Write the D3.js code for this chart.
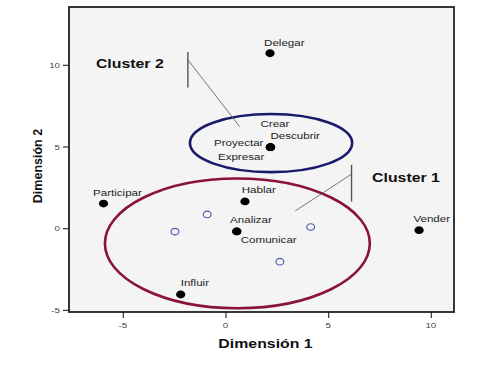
<!DOCTYPE html>
<html><head><meta charset="utf-8">
<script src="https://cdn.jsdelivr.net/npm/d3@7"></script>
<style>
html,body{margin:0;padding:0;background:#fff;}
svg{display:block;font-family:"Liberation Sans",Arial,sans-serif;}
</style></head>
<body>
<svg id="chart" width="479" height="370"></svg>
<script>
// ---- data ----
const pointNames = ["Delegar","Crear","Descubrir","Proyectar","Expresar","Participar","Hablar","Analizar","Comunicar","Influir","Vender"];
const pointX = [2.17, 2.19, 2.19, 2.19, 2.19, -5.94, 0.95, 0.55, 0.55, -2.18, 9.43];
const pointY = [10.71, 4.96, 4.96, 4.96, 4.96, 1.51, 1.64, -0.20, -0.20, -4.06, -0.12];
const openX = [-0.89, -2.46, 4.15, 2.65];
const openY = [0.84, -0.21, 0.07, -2.05];
const xTicks = [-5, 0, 5, 10];
const yTicks = [-5, 0, 5, 10];
const clusterNames = ["Cluster 1", "Cluster 2"];
const clusterCX = [0.58, 2.22];
const clusterCY = [-0.93, 5.21];
const clusterRX = [6.45, 3.95];
const clusterRY = [3.97, 1.78];
const xTitle = "Dimensión 1";
const yTitle = "Dimensión 2";

// ---- layout / style ----
const plot = {left: 69, right: 454, top: 7, bottom: 312};
const SX = 1.22; // horizontal glyph stretch seen in the reference
const labelOffsets = {
  "Delegar": [-6, -7], "Crear": [-10, -20], "Descubrir": [0, -8.5], "Proyectar": [-56.5, -1],
  "Expresar": [-52.5, 12.5], "Participar": [-10.5, -7.3], "Hablar": [-3.3, -8],
  "Analizar": [-6.7, -8], "Comunicar": [4, 12], "Influir": [0, -8.6], "Vender": [-5.7, -7.7]
};
const clusterStroke = ["#8a1438", "#1a1a6a"];
// annotation anchors in data units: text start, bracket, leader line end
const clusterAnno = [
  {tx: 7.14, ty: 2.80, bx: 6.14, by0: 3.88, by1: 1.63, ly: 3.31, ex: 3.40, ey: 1.06},
  {tx: -6.31, ty: 9.82, bx: -1.83, by0: 10.78, by1: 8.61, ly: 10.31, ex: 0.69, ey: 6.22}
];

const svg = d3.select("#chart");
const x = d3.scaleLinear().domain([-7.62, 11.13]).range([plot.left, plot.right]);
const y = d3.scaleLinear().domain([-5.13, 13.54]).range([plot.bottom, plot.top]);

// plot background
svg.append("rect").attr("x", plot.left).attr("y", plot.top)
  .attr("width", plot.right - plot.left).attr("height", plot.bottom - plot.top)
  .attr("fill", "#f4f4f4");

const clip = svg.append("defs").append("clipPath").attr("id", "clip")
  .append("rect").attr("x", plot.left).attr("y", plot.top)
  .attr("width", plot.right - plot.left).attr("height", plot.bottom - plot.top);

function stretchedText(g, px, py, txt) {
  return g.append("text").attr("transform", `translate(${px},${py}) scale(${SX},1)`).text(txt);
}

// axes
const xAxis = d3.axisBottom(x).tickValues(xTicks).tickSize(6).tickFormat(d3.format("d"));
const yAxis = d3.axisLeft(y).tickValues(yTicks).tickSize(6).tickFormat(d3.format("d"));
const gx = svg.append("g").attr("transform", `translate(0,${plot.bottom})`).call(xAxis);
const gy = svg.append("g").attr("transform", `translate(${plot.left},0)`).call(yAxis);
[gx, gy].forEach(g => {
  g.select(".domain").remove();
  g.selectAll(".tick line").attr("stroke", "#333").attr("stroke-width", 1.2);
  g.selectAll(".tick text").remove();
});
xTicks.forEach(v => {
  stretchedText(svg, x(v), 328, v).attr("text-anchor", "middle").attr("font-size", 8).attr("fill", "#444");
});
yTicks.forEach(v => {
  stretchedText(svg, plot.left - 9, y(v) + 3, v).attr("text-anchor", "end").attr("font-size", 8).attr("fill", "#444");
});

// frame
svg.append("rect").attr("x", plot.left).attr("y", plot.top)
  .attr("width", plot.right - plot.left).attr("height", plot.bottom - plot.top)
  .attr("fill", "none").attr("stroke", "#222").attr("stroke-width", 1.8);

const g = svg.append("g").attr("clip-path", "url(#clip)");

// cluster ellipses
clusterNames.forEach((n, i) => {
  g.append("ellipse")
    .attr("cx", x(clusterCX[i])).attr("cy", y(clusterCY[i]))
    .attr("rx", x(clusterCX[i] + clusterRX[i]) - x(clusterCX[i]))
    .attr("ry", y(clusterCY[i]) - y(clusterCY[i] + clusterRY[i]))
    .attr("fill", "none").attr("stroke", clusterStroke[i]).attr("stroke-width", 2.6);
});

// annotations
clusterNames.forEach((n, i) => {
  const a = clusterAnno[i];
  g.append("line").attr("x1", x(a.bx)).attr("x2", x(a.bx)).attr("y1", y(a.by0)).attr("y2", y(a.by1))
    .attr("stroke", "#555").attr("stroke-width", 1.4);
  g.append("line").attr("x1", x(a.bx)).attr("y1", y(a.ly)).attr("x2", x(a.ex)).attr("y2", y(a.ey))
    .attr("stroke", "#555").attr("stroke-width", 0.8);
  stretchedText(g, x(a.tx), y(a.ty), n).attr("font-size", 13).attr("font-weight", "bold").attr("fill", "#111");
});

// open points
openX.forEach((v, i) => {
  g.append("ellipse").attr("cx", x(v)).attr("cy", y(openY[i])).attr("rx", 3.9).attr("ry", 3.3)
    .attr("fill", "none").attr("stroke", "#4a5fa8").attr("stroke-width", 1.2);
});

// filled points
pointNames.forEach((n, i) => {
  g.append("ellipse").attr("cx", x(pointX[i])).attr("cy", y(pointY[i])).attr("rx", 4.6).attr("ry", 3.9)
    .attr("fill", "#000");
});
// labels
pointNames.forEach((n, i) => {
  const o = labelOffsets[n];
  stretchedText(g, x(pointX[i]) + o[0], y(pointY[i]) + o[1], n)
    .attr("font-size", 9.5).attr("fill", "#222");
});

// axis titles
stretchedText(svg, (plot.left + plot.right) / 2 + 4, 348, xTitle)
  .attr("text-anchor", "middle").attr("font-size", 13).attr("font-weight", "bold").attr("fill", "#111");
svg.append("text").attr("transform", `translate(42,166) rotate(-90)`)
  .attr("text-anchor", "middle").attr("font-size", 12.5).attr("font-weight", "bold").attr("fill", "#111")
  .text(yTitle);
</script>
</body></html>
